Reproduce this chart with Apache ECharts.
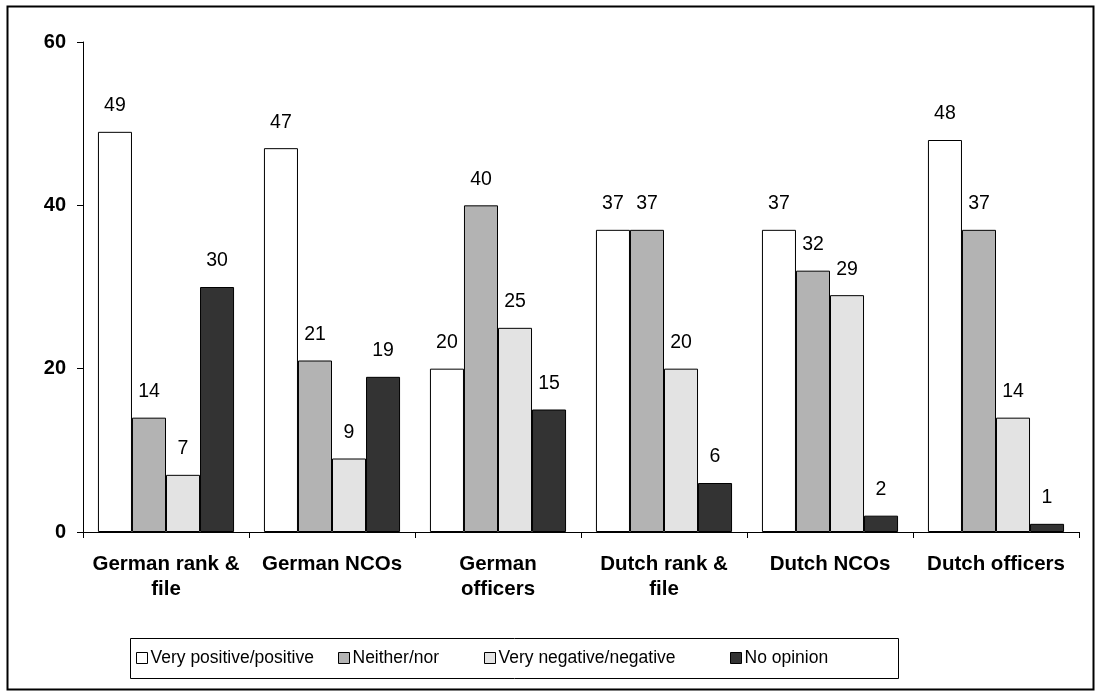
<!DOCTYPE html>
<html>
<head>
<meta charset="utf-8">
<script src="https://cdn.jsdelivr.net/npm/echarts@6/dist/echarts.min.js"></script>
<style>
html,body{margin:0;padding:0;background:#fff;}
#chart{width:1101px;height:697px;}
</style>
</head>
<body>
<div id="chart"></div>
<script>
const categories = ['German rank &\nfile', 'German NCOs', 'German\nofficers', 'Dutch rank &\nfile', 'Dutch NCOs', 'Dutch officers'];
const seriesNames = ['Very positive/positive', 'Neither/nor', 'Very negative/negative', 'No opinion'];
const veryPositive = [49, 47, 20, 37, 37, 48];
const neitherNor = [14, 21, 40, 37, 32, 37];
const veryNegative = [7, 9, 25, 20, 29, 14];
const noOpinion = [30, 19, 15, 6, 2, 1];
const yTicks = [0, 20, 40, 60];

const colors = ['#ffffff', '#b3b3b3', '#e3e3e3', '#333333'];
const values = [veryPositive, neitherNor, veryNegative, noOpinion];
const FONT = 'Liberation Sans, Arial, sans-serif';

const chart = echarts.init(document.getElementById('chart'), null, {renderer: 'canvas'});

const series = seriesNames.map((name, i) => ({
  name: name,
  type: 'bar',
  data: values[i],
  barGap: '0%',
  barCategoryGap: '18%',
  itemStyle: {color: colors[i], borderColor: '#000', borderWidth: 1},
  label: {
    show: true, position: 'top', distance: 16,
    fontFamily: FONT, fontSize: 19.5, color: '#000'
  },
  emphasis: {disabled: true},
  animation: false
}));

const legendLefts = [136, 338, 484, 730];
const legends = seriesNames.map((name, i) => ({
  data: [name],
  left: legendLefts[i],
  top: 649,
  itemWidth: 11,
  itemHeight: 11,
  icon: 'rect',
  itemStyle: {borderColor: '#000', borderWidth: 1},
  textStyle: {fontFamily: FONT, fontSize: 17.5, color: '#000', padding: [0, 0, 0, -2]},
  selectedMode: false,
  padding: 0
}));

chart.setOption({
  animation: false,
  backgroundColor: '#fff',
  grid: {left: 83, right: 22, top: 42, bottom: 165, containLabel: false},
  xAxis: {
    type: 'category',
    data: categories,
    axisLine: {lineStyle: {color: '#000', width: 1}},
    axisTick: {show: true, length: 6, lineStyle: {color: '#000'}},
    axisLabel: {
      interval: 0, margin: 20, lineHeight: 25,
      fontFamily: FONT, fontSize: 20.5, fontWeight: 'bold', color: '#000'
    }
  },
  yAxis: {
    type: 'value',
    min: yTicks[0], max: yTicks[yTicks.length - 1], interval: 20,
    axisLine: {show: true, lineStyle: {color: '#000', width: 1}},
    axisTick: {show: true, inside: false, length: 6, lineStyle: {color: '#000'}},
    splitLine: {show: false},
    axisLabel: {
      margin: 17,
      fontFamily: FONT, fontSize: 20, fontWeight: 'bold', color: '#000'
    }
  },
  legend: legends,
  series: series,
  graphic: [
    {type: 'rect', shape: {x: 7.5, y: 6.5, width: 1086, height: 683},
     style: {fill: 'none', stroke: '#000', lineWidth: 2}, silent: true, z: 100},
    {type: 'rect', shape: {x: 130.5, y: 638.5, width: 768, height: 40},
     style: {fill: 'none', stroke: '#000', lineWidth: 1}, silent: true, z: 100}
  ]
});
</script>
</body>
</html>
